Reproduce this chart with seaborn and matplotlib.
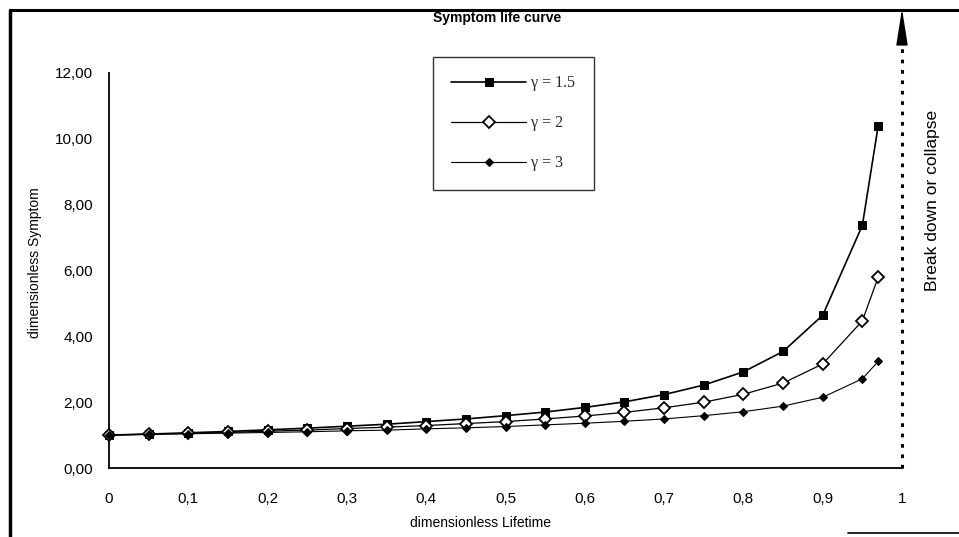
import matplotlib
matplotlib.use("Agg")
import matplotlib.pyplot as plt
from matplotlib.lines import Line2D
import seaborn as sns
import pandas as pd

# ---- data ----
lifetime = [0.00, 0.05, 0.10, 0.15, 0.20, 0.25, 0.30, 0.35, 0.40, 0.45, 0.50,
            0.55, 0.60, 0.65, 0.70, 0.75, 0.80, 0.85, 0.90, 0.95, 0.97]
symptom_g15 = [1.00, 1.03, 1.07, 1.11, 1.16, 1.21, 1.27, 1.33, 1.41, 1.49, 1.59,
               1.70, 1.84, 2.01, 2.23, 2.52, 2.92, 3.54, 4.64, 7.37, 10.40]
symptom_g2 = [1.00, 1.03, 1.05, 1.08, 1.12, 1.15, 1.20, 1.24, 1.29, 1.35, 1.41,
              1.49, 1.58, 1.69, 1.83, 2.00, 2.24, 2.58, 3.16, 4.47, 5.80]
symptom_g3 = [1.00, 1.02, 1.04, 1.06, 1.08, 1.10, 1.13, 1.15, 1.19, 1.22, 1.26,
              1.31, 1.36, 1.42, 1.49, 1.59, 1.71, 1.88, 2.15, 2.71, 3.24]
series_labels = ["\u03b3 = 1.5", "\u03b3 = 2", "\u03b3 = 3"]
x_ticks = [0, 0.1, 0.2, 0.3, 0.4, 0.5, 0.6, 0.7, 0.8, 0.9, 1.0]
x_ticklabels = ["0", "0,1", "0,2", "0,3", "0,4", "0,5", "0,6", "0,7", "0,8", "0,9", "1"]
y_ticks = [0, 2, 4, 6, 8, 10, 12]
y_ticklabels = ["0,00", "2,00", "4,00", "6,00", "8,00", "10,00", "12,00"]
breakdown_x = 1.0

sns.set_theme(style="white")
plt.rcParams["font.family"] = ["Liberation Sans", "DejaVu Sans"]

W, H = 959, 537
fig = plt.figure(figsize=(W / 100, H / 100), dpi=100)
fig.patch.set_facecolor("white")
ax = fig.add_axes([109 / W, 1 - 468 / H, 793 / W, 395 / H])
ax.set_facecolor("white")

df = pd.DataFrame({"x": lifetime, "g15": symptom_g15, "g2": symptom_g2, "g3": symptom_g3})

sns.lineplot(data=df, x="x", y="g15", ax=ax, color="black", lw=1.2,
             marker="s", markersize=6, markerfacecolor="black", markeredgecolor="black",
             label=series_labels[0], clip_on=False, zorder=4)
sns.lineplot(data=df, x="x", y="g2", ax=ax, color="black", lw=0.9,
             marker="D", markersize=6.5, markerfacecolor="white", markeredgecolor="black",
             markeredgewidth=1.3, label=series_labels[1], clip_on=False, zorder=5)
sns.lineplot(data=df, x="x", y="g3", ax=ax, color="black", lw=0.8,
             marker="D", markersize=3.8, markerfacecolor="black", markeredgecolor="black",
             label=series_labels[2], clip_on=False, zorder=6)

ax.set_xlim(0, 1)
ax.set_ylim(0, 12)
ax.set_xticks(x_ticks)
ax.set_xticklabels(x_ticklabels)
ax.set_yticks(y_ticks)
ax.set_yticklabels(y_ticklabels)
ax.tick_params(axis="both", direction="inout", length=11, width=1, color="black",
               labelsize=11, labelcolor="black")
ax.tick_params(axis="x", pad=12)
ax.tick_params(axis="y", pad=6)
for s in ["top", "right"]:
    ax.spines[s].set_visible(False)
for s in ["left", "bottom"]:
    ax.spines[s].set_color("black")
    ax.spines[s].set_linewidth(1.3)
ax.set_xlabel("")
ax.set_ylabel("")
ax.grid(False)

# break-down line (dotted) and arrow head at lifetime = 1
ax.plot([breakdown_x, breakdown_x], [0, 12.9], color="black", lw=2.2,
        linestyle=(0, (1.2, 2.2)), clip_on=False, zorder=3)
ax.annotate("", xy=(breakdown_x, 13.95), xytext=(breakdown_x, 12.9), xycoords="data",
            annotation_clip=False,
            arrowprops=dict(arrowstyle="-|>,head_length=1.9,head_width=0.3",
                            color="black", lw=1.0, shrinkA=0, shrinkB=0))

leg = ax.legend(loc="upper left", bbox_to_anchor=(433 / W, 1 - 57 / H),
                bbox_transform=fig.transFigure, frameon=True, fancybox=False,
                prop={"family": ["Liberation Serif", "DejaVu Serif"], "size": 11.5},
                handlelength=4.7, handletextpad=0.3, labelspacing=1.5,
                borderpad=1.15, borderaxespad=0)
leg.get_frame().set_edgecolor("black")
leg.get_frame().set_linewidth(1.0)

fig.text(497 / W, 1 - 18 / H, "Symptom life curve", ha="center", va="center",
         fontsize=10, fontweight="bold", color="black")
fig.text(480 / W, 1 - 523 / H, "dimensionless Lifetime", ha="center", va="center",
         fontsize=10, color="black")
fig.text(35 / W, 1 - 263 / H, "dimensionless Symptom", ha="center", va="center",
         rotation=90, fontsize=10, color="black")
fig.text(932 / W, 1 - 200 / H, "Break down or collapse", ha="center", va="center",
         rotation=90, fontsize=12.5, color="black")

# scanned frame
fig.add_artist(Line2D([10 / W, 10 / W], [0, 1 - 10 / H], transform=fig.transFigure,
                      color="black", lw=2.5))
fig.add_artist(Line2D([10 / W, 1], [1 - 10 / H, 1 - 10 / H], transform=fig.transFigure,
                      color="black", lw=2.2))
fig.add_artist(Line2D([848 / W, 1], [1 - 533 / H, 1 - 533 / H], transform=fig.transFigure,
                      color="black", lw=1.2))

fig.savefig("out.png", dpi=100, facecolor="white")
